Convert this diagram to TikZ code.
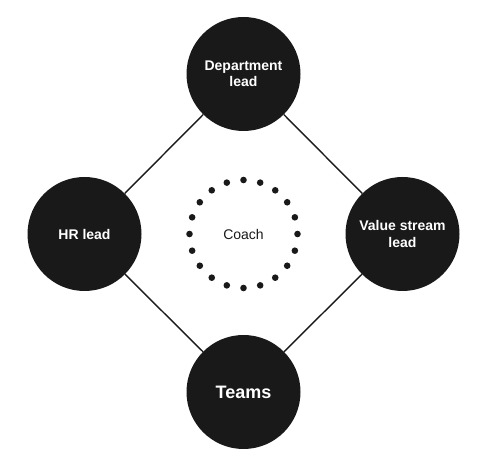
\documentclass[tikz,border=0pt]{standalone}
\usepackage{fontspec}
\setsansfont{Liberation Sans}
\usepackage{tikz}
\usetikzlibrary{calc}

\begin{document}
\begin{tikzpicture}[x=1pt, y=1pt, font=\sffamily,
		role/.style={circle, fill=black!90, text=white, minimum size=114pt, inner sep=0pt,
			align=center, font=\sffamily\bfseries\fontsize{14}{16.5}\selectfont}]
			\useasboundingbox (0,0) rectangle (495,468);
			\coordinate (O) at (243.5,234);
			\node[role] (dept) at (243.5,394) {Department\\lead};
			\node[role] (hr) at (84.5,234) {HR lead};
			\node[role] (vs) at (402.5,234) {Value stream\\lead};
			\node[role, font=\sffamily\bfseries\fontsize{18}{20}\selectfont] (teams) at (243.5,76) {Teams};
			\draw[line width=1.4pt, black!90] (dept)--(vs)--(teams)--(hr)--(dept);
			\foreach \a in {0,18,...,342}
				\fill[black!90] ($(O)+(\a+90:54)$) circle (3.3);
			\node[font=\sffamily\fontsize{14}{16}\selectfont, text=black!90] (coach) at (O) {Coach};
		\end{tikzpicture}
\end{document}
